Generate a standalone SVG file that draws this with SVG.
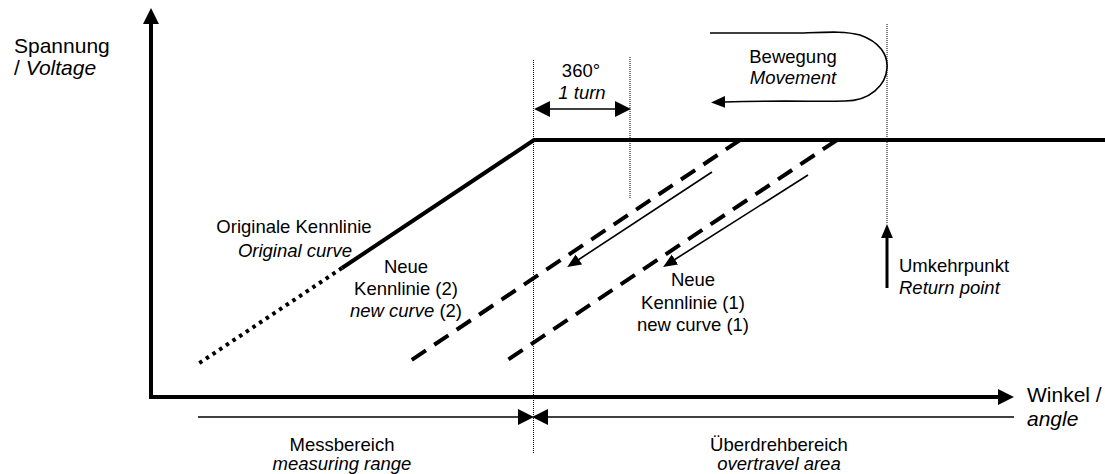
<svg xmlns="http://www.w3.org/2000/svg" width="1105" height="474" viewBox="0 0 1105 474">
<style>
text{font-family:"Liberation Sans",Arial,sans-serif;font-size:18.5px;fill:#000}
.ax{font-size:21px}
.it{font-style:italic}
.mid{text-anchor:middle}
.thick{stroke:#000;stroke-width:4;fill:none}
.thin{stroke:#000;stroke-width:1.6;fill:none}
.dot{stroke:#000;stroke-width:1;stroke-dasharray:1 1;fill:none}
.dash{stroke:#000;stroke-width:4;stroke-dasharray:17 10;fill:none}
.dots{stroke:#000;stroke-width:4;stroke-dasharray:3.5 4.5;fill:none}
</style>
<defs>
<marker id="big" markerUnits="userSpaceOnUse" markerWidth="16" markerHeight="16" viewBox="0 0 15 15" refX="1" refY="7.5" orient="auto-start-reverse"><path d="M0,0 L15,7.5 L0,15 z" fill="#000"/></marker>
<marker id="small" markerUnits="userSpaceOnUse" markerWidth="14" markerHeight="12" viewBox="0 0 13 11" refX="1" refY="5.5" orient="auto"><path d="M0,0 L13,5.5 L0,11 z" fill="#000"/></marker>
</defs>

<g id="guides">
<line class="dot" x1="533.5" y1="60" x2="533.5" y2="453"/>
<line class="dot" x1="630" y1="57" x2="630" y2="198"/>
<line class="dot" x1="887" y1="24" x2="887" y2="223"/>
</g>

<g id="axes">
<line class="thick" x1="151" y1="399" x2="151" y2="23" marker-end="url(#big)"/>
<line class="thick" x1="149" y1="397" x2="999" y2="397" marker-end="url(#big)"/>
</g>

<g id="original-curve">
<polyline class="thick" points="342,268 534,140 1105,140"/>
<line class="dots" x1="342" y1="268" x2="198" y2="364"/>
</g>

<g id="new-curve-2"><line class="dash" x1="740" y1="140" x2="407" y2="363"/></g>
<g id="new-curve-1"><line class="dash" x1="837" y1="140" x2="503" y2="363"/></g>

<g id="connectors">
<line class="thin" x1="712" y1="172" x2="578" y2="260" marker-end="url(#small)"/>
<line class="thin" x1="808" y1="175" x2="674" y2="260" marker-end="url(#small)"/>
<line class="thin" x1="549" y1="109" x2="616" y2="109" marker-start="url(#big)" marker-end="url(#big)"/>
<line class="thin" x1="198" y1="417" x2="519" y2="417" marker-end="url(#big)"/>
<line class="thin" x1="1014" y1="417" x2="547" y2="417" marker-end="url(#big)"/>
<line x1="887" y1="288" x2="887" y2="237" stroke="#000" stroke-width="3" marker-end="url(#small)"/>
<path class="thin" stroke-width="2.2" d="M710,33 L800,33 C830,32 845,31 860,35 C880,42 888,55 887,68 C886,85 870,101 845,101 C815,102 790,100 724,102" marker-end="url(#small)"/>
</g>

<g id="labels">
<text class="ax" x="14" y="53">Spannung</text>
<text class="ax" x="14" y="75">/ <tspan class="it">Voltage</tspan></text>
<text class="ax" x="1027" y="402">Winkel /</text>
<text class="ax it" x="1027" y="426">angle</text>
<text class="mid" x="581" y="77">360°</text>
<text class="mid it" x="582" y="99">1 turn</text>
<text class="mid" x="793" y="63">Bewegung</text>
<text class="mid it" x="793" y="84">Movement</text>
<text class="mid" x="294" y="233">Originale Kennlinie</text>
<text class="mid it" x="295" y="257">Original curve</text>
<text class="mid" x="406" y="273">Neue</text>
<text class="mid" x="406" y="295">Kennlinie (2)</text>
<text class="mid" x="406" y="317"><tspan class="it">new curve</tspan> (2)</text>
<text class="mid" x="693" y="286">Neue</text>
<text class="mid" x="693" y="309">Kennlinie (1)</text>
<text class="mid" x="693" y="331">new curve (1)</text>
<text x="899" y="272">Umkehrpunkt</text>
<text class="it" x="899" y="294">Return point</text>
<text class="mid" x="342" y="451">Messbereich</text>
<text class="mid it" x="342" y="470">measuring range</text>
<text class="mid" x="779" y="451">Überdrehbereich</text>
<text class="mid it" x="779" y="470">overtravel area</text>
</g>
</svg>
